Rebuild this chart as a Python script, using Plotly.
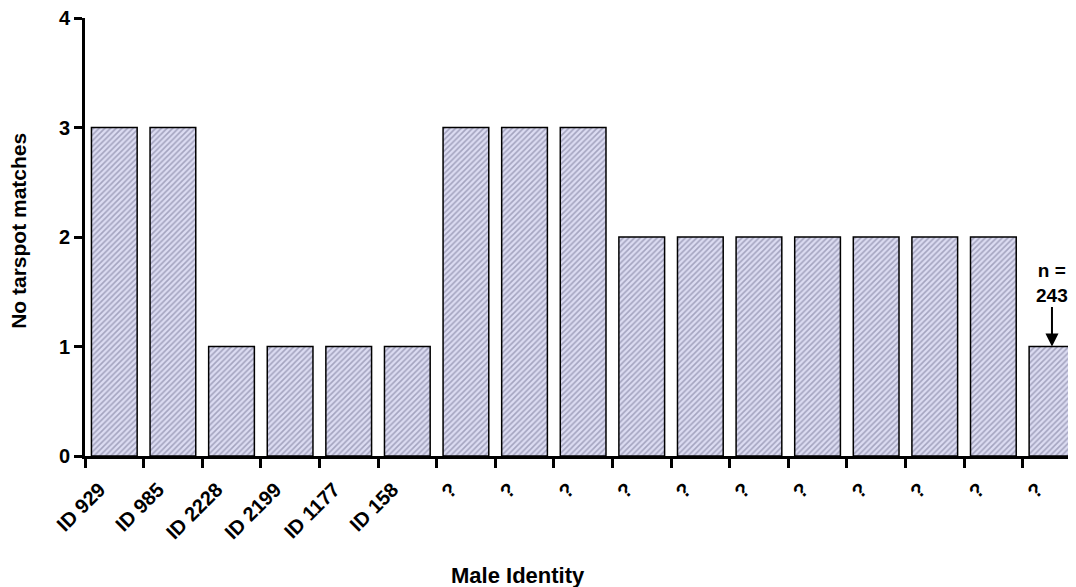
import plotly.graph_objects as go

males = ["ID 929", "ID 985", "ID 2228", "ID 2199", "ID 1177", "ID 158",
         "?", "?", "?", "?", "?", "?", "?", "?", "?", "?", "?"]
matches = [3, 3, 1, 1, 1, 1, 3, 3, 3, 2, 2, 2, 2, 2, 2, 2, 1]
y_ticks = [0, 1, 2, 3, 4]
note_text = "n =<br>243"

FONT = "Liberation Sans, Arial, Helvetica, sans-serif"
n = len(males)
xs = list(range(n))
boundaries = [i - 0.5 for i in xs]
label_pos = [i - 0.5 + 0.25 for i in xs]
xrange = [-0.5, 16.41]

fig = go.Figure()
fig.add_trace(go.Bar(
    x=xs, y=matches, width=0.78,
    marker=dict(
        color="#d6d6ee",
        line=dict(color="black", width=1.5),
        pattern=dict(shape="/", bgcolor="#dcdcf2", fgcolor="#6c6c8c",
                     size=4, solidity=0.4),
    ),
    showlegend=False, hoverinfo="skip",
))
# invisible trace to activate the label axis
fig.add_trace(go.Scatter(x=[0], y=[0], xaxis="x2", mode="markers",
                         marker=dict(opacity=0), showlegend=False, hoverinfo="skip"))

# the page body has an 8px margin, so the figure is sized/offset for it
fig.update_layout(
    width=1068, height=579,
    margin=dict(l=77, r=0, t=10, b=131),
    paper_bgcolor="white", plot_bgcolor="white",
    font=dict(family=FONT, color="black"),
    xaxis=dict(
        range=xrange, tickmode="array", tickvals=boundaries,
        ticktext=[""] * n, ticks="outside", ticklen=9, tickwidth=3,
        tickcolor="black", showline=True, linecolor="black", linewidth=3,
        showgrid=False, zeroline=False, fixedrange=True,
    ),
    xaxis2=dict(
        overlaying="x", anchor="y", side="bottom", range=xrange,
        tickmode="array", tickvals=label_pos, ticktext=males,
        tickangle=-45, ticks="", showline=False, showgrid=False,
        zeroline=False, ticklabelstandoff=17, ticklabeloverflow="allow",
        tickfont=dict(family=FONT, size=20, color="black", weight="bold"),
    ),
    yaxis=dict(
        range=[0, 4], tickmode="array", tickvals=y_ticks,
        ticktext=[str(v) for v in y_ticks], ticks="outside", ticklen=8,
        tickwidth=3, tickcolor="black", showline=True, linecolor="black",
        linewidth=3, showgrid=False, zeroline=False,
        ticklabeloverflow="allow",
        tickfont=dict(family=FONT, size=20, color="black", weight="bold"),
    ),
)

fig.add_annotation(
    text="No tarspot matches", textangle=-90,
    xref="paper", yref="paper", x=-0.0666, y=0.514,
    xanchor="center", yanchor="middle", showarrow=False,
    font=dict(family=FONT, size=21, color="black", weight="bold"),
)
fig.add_annotation(
    text="Male Identity",
    xref="paper", yref="paper", x=0.437, y=-0.272,
    xanchor="center", yanchor="middle", showarrow=False,
    font=dict(family=FONT, size=22, color="black", weight="bold"),
)
fig.add_annotation(
    text=note_text, x=xs[-1], y=matches[-1], xref="x", yref="y",
    showarrow=True, ax=0, ay=-64, arrowhead=2, arrowsize=1.3,
    arrowwidth=2, arrowcolor="black", standoff=0,
    font=dict(family=FONT, size=19, color="black", weight="bold"),
    align="center",
)

fig.write_html("out.html")
